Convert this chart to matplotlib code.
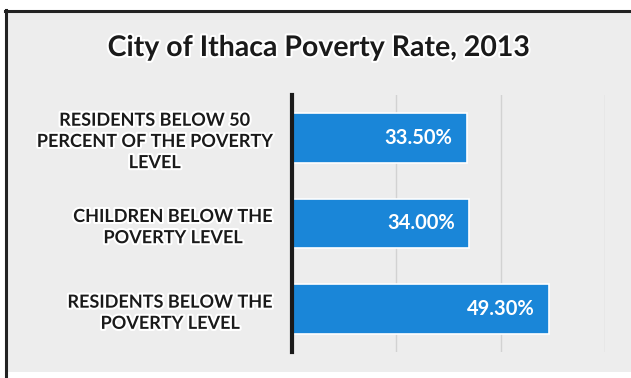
import matplotlib
matplotlib.use("Agg")
import matplotlib.pyplot as plt
import matplotlib.patheffects as pe
from matplotlib.patches import Rectangle

title = "City of Ithaca Poverty Rate, 2013"
categories = [
    "RESIDENTS BELOW 50\nPERCENT OF THE POVERTY\nLEVEL",
    "CHILDREN BELOW THE\nPOVERTY LEVEL",
    "RESIDENTS BELOW THE\nPOVERTY LEVEL",
]
rates = [33.5, 34.0, 49.3]
grid_ticks = [20, 40, 60]

bar_color = "#1a86d8"
bg_color = "#ededed"
halo = [pe.withStroke(linewidth=3, foreground="white")]

fig = plt.figure(figsize=(6.31, 3.78), dpi=100)
fig.patch.set_facecolor("white")

# backdrop in pixel coordinates: grey panel, dark frame on top and left
bg = fig.add_axes([0, 0, 1, 1], zorder=-1)
bg.set_xlim(0, 631)
bg.set_ylim(378, 0)
bg.axis("off")
bg.add_patch(Rectangle((6, 11), 625, 361, facecolor=bg_color, edgecolor="none"))
bg.plot([5, 631], [11, 11], color="#222222", linewidth=2.2)
bg.plot([6, 6], [10, 378], color="#222222", linewidth=2.2)

fig.text(319 / 631, 1 - 48 / 378, title, ha="center", va="center",
         fontsize=20.5, fontweight="bold", family="Lato", color="#1a1a1a",
         path_effects=halo)

ax = fig.add_axes([292 / 631, 1 - 352 / 378, 313 / 631, 257 / 378])
ax.set_facecolor("none")

ypos = list(range(len(categories)))
ax.barh(ypos, rates, height=0.58, color=bar_color, edgecolor="white",
        linewidth=1.2, zorder=2)

for y, v in zip(ypos, rates):
    ax.text(v - 2.8, y, f"{v:.2f}%", ha="right", va="center", color="white",
            fontsize=14.5, fontweight="bold", family="Lato", zorder=3)

for g in grid_ticks:
    ax.axvline(g, color="#d2d2d2", linewidth=1, zorder=1)

ax.set_xlim(0, 60)
ax.set_ylim(2.5, -0.5)
ax.set_xticks([])
ax.set_yticks(ypos)
ax.set_yticklabels(categories, fontsize=13, fontweight="bold", family="Lato",
                   color="#1a1a1a", multialignment="center", linespacing=1.3)
for lbl in ax.get_yticklabels():
    lbl.set_path_effects(halo)
ax.tick_params(axis="y", length=0, pad=14)

for side in ["top", "right", "bottom"]:
    ax.spines[side].set_visible(False)
ax.spines["left"].set_linewidth(3)
ax.spines["left"].set_color("#1a1a1a")

fig.savefig("out.png", dpi=100)
